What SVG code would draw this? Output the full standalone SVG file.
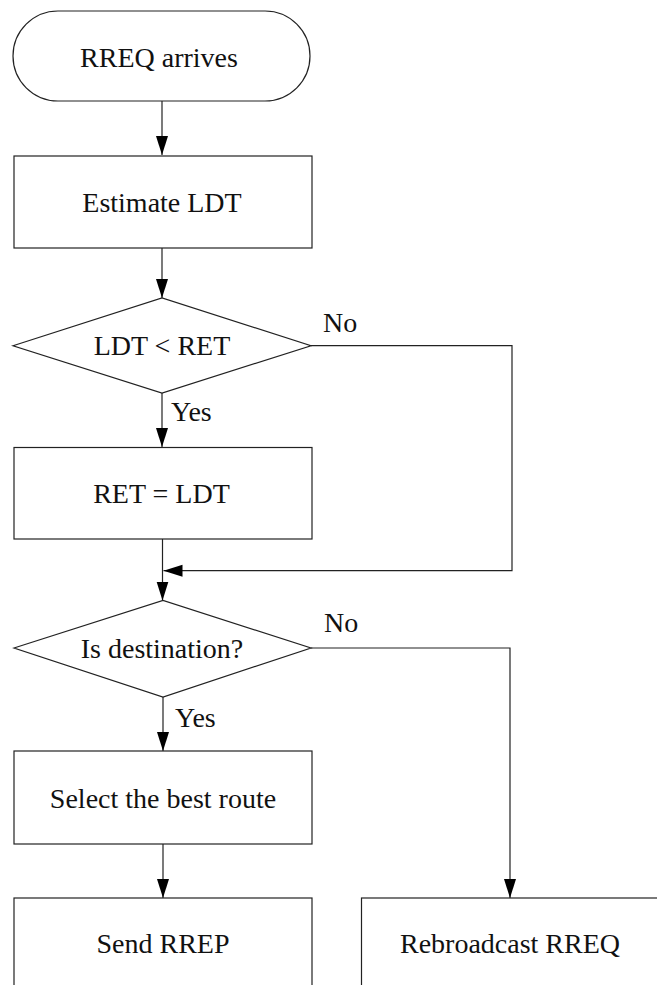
<svg xmlns="http://www.w3.org/2000/svg" width="657" height="985" viewBox="0 0 657 985">
<style>
.s{fill:#fff;stroke:#222;stroke-width:1.2}
.t{font-family:"Liberation Serif","Times New Roman",serif;font-size:28px;fill:#111;text-anchor:middle}
.l{font-family:"Liberation Serif","Times New Roman",serif;font-size:28px;fill:#111}
.c{fill:none;stroke:#222;stroke-width:1.2}
</style>
<defs>
<marker id="ah" markerUnits="userSpaceOnUse" markerWidth="21" markerHeight="14" refX="19" refY="6" orient="auto">
<path d="M0,0 L19,6 L0,12 Z" fill="#000"/>
</marker>
</defs>
<rect width="657" height="985" fill="#fff"/>
<g id="connectors">
<path class="c" d="M162,101 V155" marker-end="url(#ah)"/>
<path class="c" d="M162,248 V298" marker-end="url(#ah)"/>
<path class="c" d="M162,393 V447" marker-end="url(#ah)"/>
<path class="c" d="M162.5,539 V600.5" marker-end="url(#ah)"/>
<path class="c" d="M311,345.7 H512 V570.7 H163.5" marker-end="url(#ah)"/>
<path class="c" d="M163,697 V751" marker-end="url(#ah)"/>
<path class="c" d="M163,844 V898" marker-end="url(#ah)"/>
<path class="c" d="M311,648 H510 V898" marker-end="url(#ah)"/>
<text class="l" x="323" y="332">No</text>
<text class="l" x="171" y="421">Yes</text>
<text class="l" x="324" y="632">No</text>
<text class="l" x="175" y="727">Yes</text>
</g>
<g id="start">
<rect class="s" x="13" y="11" width="297" height="90" rx="45" ry="45"/>
<text class="t" x="159" y="67">RREQ arrives</text>
</g>
<g id="estimate">
<rect class="s" x="14" y="156" width="298" height="92"/>
<text class="t" x="162" y="212">Estimate LDT</text>
</g>
<g id="cmp">
<polygon class="s" points="13,345.7 162,298 311,345.7 162,393"/>
<text class="t" x="162" y="355">LDT &lt; RET</text>
</g>
<g id="assign">
<rect class="s" x="14" y="447.5" width="298" height="91.5"/>
<text class="t" x="161.5" y="503">RET = LDT</text>
</g>
<g id="isdest">
<polygon class="s" points="14,648 163,600.5 311,648 163,697"/>
<text class="t" x="162" y="658">Is destination?</text>
</g>
<g id="select">
<rect class="s" x="14" y="751" width="298" height="93"/>
<text class="t" x="163" y="808">Select the best route</text>
</g>
<g id="send">
<rect class="s" x="14" y="898" width="298" height="93"/>
<text class="t" x="163" y="953">Send RREP</text>
</g>
<g id="rebroadcast">
<rect class="s" x="361.5" y="898" width="298" height="93"/>
<text class="t" x="510" y="953">Rebroadcast RREQ</text>
</g>
</svg>
